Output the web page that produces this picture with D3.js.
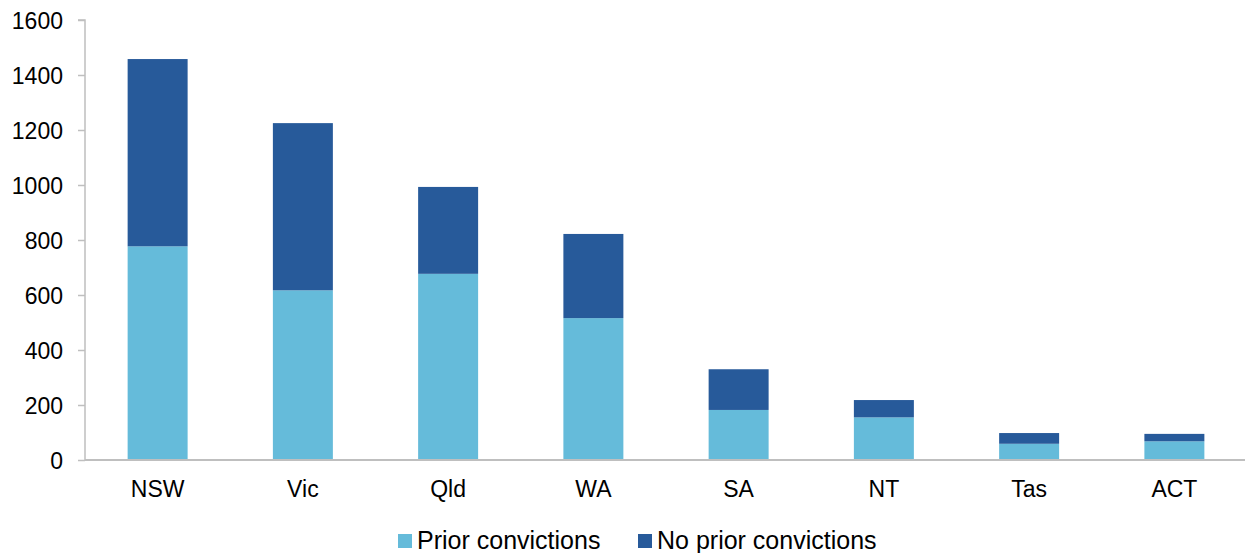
<!DOCTYPE html>
<html>
<head>
<meta charset="utf-8">
<script src="https://cdn.jsdelivr.net/npm/d3@7"></script>
<style>
  body { margin: 0; background: #fff; }
  text { font-family: "Liberation Sans", Arial, sans-serif; fill: #000; }
</style>
</head>
<body>
<div id="chart"></div>
<script>
// data
var states = ["NSW", "Vic", "Qld", "WA", "SA", "NT", "Tas", "ACT"];
var priorConvictions = [777, 617, 677, 516, 182, 155, 59, 68];
var noPriorConvictions = [681, 608, 316, 306, 148, 63, 39, 27];
var seriesNames = ["Prior convictions", "No prior convictions"];
var seriesColors = ["#65bbda", "#275a9a"];
var yTicks = [0, 200, 400, 600, 800, 1000, 1200, 1400, 1600];

var W = 1245, H = 553;
var plotLeft = 85, plotRight = 1247, plotTop = 20, plotBottom = 460;

var svg = d3.select("#chart").append("svg")
  .attr("width", W)
  .attr("height", H);

var rows = states.map(function(s, i) {
  return { state: s, prior: priorConvictions[i], noPrior: noPriorConvictions[i] };
});
var stacked = d3.stack().keys(["prior", "noPrior"])(rows);

var x = d3.scaleBand()
  .domain(states)
  .range([plotLeft, plotRight])
  .paddingInner(0.587)
  .paddingOuter(0.587 / 2);

var y = d3.scaleLinear()
  .domain([0, 1600])
  .range([plotBottom, plotTop]);

// bars
svg.selectAll("g.series")
  .data(stacked)
  .enter()
  .append("g")
    .attr("class", "series")
    .style("fill", function(d, i) { return seriesColors[i]; })
  .selectAll("rect")
  .data(function(d) { return d; })
  .enter()
  .append("rect")
    .attr("x", function(d) { return x(d.data.state); })
    .attr("y", function(d) { return y(d[1]); })
    .attr("width", x.bandwidth())
    .attr("height", function(d) { return y(d[0]) - y(d[1]); });

// y axis
var yAxis = svg.append("g")
  .attr("transform", "translate(" + plotLeft + ",0)")
  .call(d3.axisLeft(y).tickValues(yTicks).tickSize(7).tickPadding(15).tickFormat(d3.format("d")));
yAxis.selectAll("text").style("font-size", "23px").attr("dy", "0.36em");
yAxis.selectAll("line").style("stroke", "#bfbfbf").style("stroke-width", 1.5);
yAxis.select(".domain").attr("d", "M-7," + plotTop + "H0V" + plotBottom).style("stroke", "#bfbfbf").style("stroke-width", 1.5);

// x axis
var xAxis = svg.append("g")
  .attr("transform", "translate(0," + plotBottom + ")")
  .call(d3.axisBottom(x).tickSize(0).tickPadding(21));
xAxis.selectAll("text").style("font-size", "23px");
xAxis.select(".domain").attr("d", "M" + plotLeft + ",0H" + plotRight).style("stroke", "#bfbfbf").style("stroke-width", 2);

// legend
var legendX = [398, 638];
var legend = svg.selectAll("g.legend")
  .data(seriesNames)
  .enter()
  .append("g")
    .attr("class", "legend")
    .attr("transform", function(d, i) { return "translate(" + legendX[i] + ",534)"; });
legend.append("rect")
  .attr("width", 14)
  .attr("height", 14)
  .style("fill", function(d, i) { return seriesColors[i]; });
legend.append("text")
  .attr("x", 19)
  .attr("y", 15)
  .style("font-size", "25px")
  .text(function(d) { return d; });
</script>
</body>
</html>
